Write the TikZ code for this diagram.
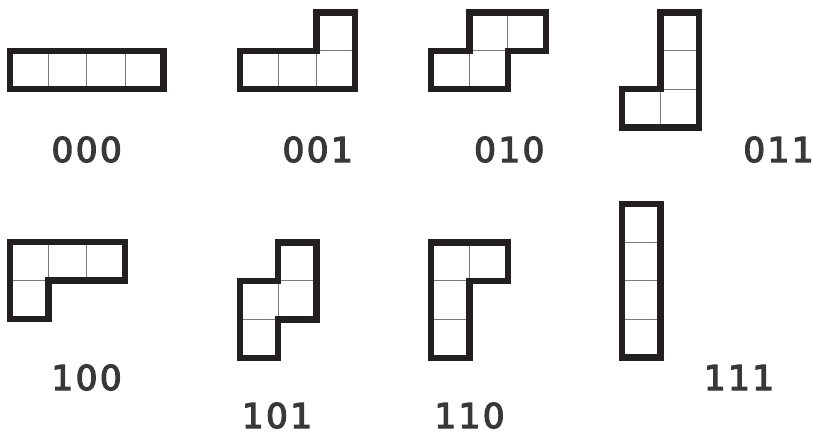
\documentclass[tikz,border=0pt]{standalone}
\usepackage{fontspec}
\newfontfamily\lblfont{DejaVu Sans}[LetterSpace=7, FakeBold=3.6]
\definecolor{edge}{HTML}{231F20}
\definecolor{thin}{HTML}{7A7A7A}
\definecolor{lbl}{HTML}{38373A}
\tikzset{
  cellline/.style={draw=thin, line width=1.1pt},
  outline/.style={draw=edge, line width=6.4pt, line join=miter},
  lab/.style={font=\lblfont\fontsize{34.3}{36}\selectfont, text=lbl, inner sep=0pt, anchor=base}
}
\newcommand\piece[4]{% #1 xshift, #2 yshift(down), #3 cells list, #4 outline
  \begin{scope}[xshift=#1pt, yshift=-#2pt, x=38.4pt, y=-38.4pt]
    \foreach \cx/\cy in {#3} { \path[cellline] (\cx,\cy) rectangle ++(1,1); }
    \path[outline] #4;
  \end{scope}}
\begin{document}
\begin{tikzpicture}[x=1pt,y=-1pt]
\useasboundingbox (0,0) rectangle (814,437);
% row 1
\piece{10}{50.7}{0/0,1/0,2/0,3/0}{(0,0)--(4,0)--(4,1)--(0,1)--cycle}
\piece{239.7}{12.3}{0/1,1/1,2/1,2/0}{(0,1)--(2,1)--(2,0)--(3,0)--(3,2)--(0,2)--cycle}
\piece{431}{12.3}{1/0,2/0,0/1,1/1}{(0,1)--(1,1)--(1,0)--(3,0)--(3,1)--(2,1)--(2,2)--(0,2)--cycle}
\piece{622}{12.3}{1/0,1/1,1/2,0/2}{(1,0)--(2,0)--(2,3)--(0,3)--(0,2)--(1,2)--cycle}
% row 2
\piece{10}{242.2}{0/0,1/0,2/0,0/1}{(0,0)--(3,0)--(3,1)--(1,1)--(1,2)--(0,2)--cycle}
\piece{239.7}{242.5}{1/0,0/1,1/1,0/2}{(1,0)--(2,0)--(2,2)--(1,2)--(1,3)--(0,3)--(0,1)--(1,1)--cycle}
\piece{431}{242.5}{0/0,1/0,0/1,0/2}{(0,0)--(2,0)--(2,1)--(1,1)--(1,3)--(0,3)--cycle}
\piece{622}{204}{0/0,0/1,0/2,0/3}{(0,0)--(1,0)--(1,4)--(0,4)--cycle}
% labels
\node[lab] (l000) at (86.7,162) {000};
\node[lab] (l001) at (317.7,162) {001};
\node[lab] (l010) at (509.3,162) {010};
\node[lab] (l011) at (778.5,162) {011};
\node[lab] (l100) at (86.6,390) {100};
\node[lab] (l101) at (277,428) {101};
\node[lab] (l110) at (469.5,428) {110};
\node[lab] (l111) at (739,390) {111};
\end{tikzpicture}
\end{document}
